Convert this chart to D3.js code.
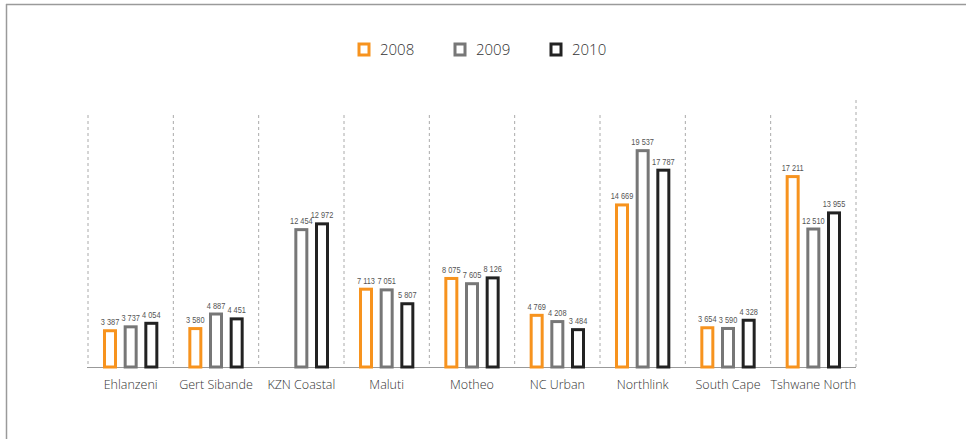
<!DOCTYPE html>
<html><head><meta charset="utf-8">
<script src="https://cdn.jsdelivr.net/npm/d3@7"></script>
<style>
html,body{margin:0;padding:0;background:#fff;}
svg{display:block;}
</style></head>
<body>
<svg id="chart" width="966" height="439"></svg>
<script>
const categories = ["Ehlanzeni","Gert Sibande","KZN Coastal","Maluti","Motheo","NC Urban","Northlink","South Cape","Tshwane North"];
const years = ["2008","2009","2010"];
const values2008 = [3387, 3580, null, 7113, 8075, 4769, 14669, 3654, 17211];
const values2009 = [3737, 4887, 12454, 7051, 7605, 4208, 19537, 3590, 12510];
const values2010 = [4054, 4451, 12972, 5807, 8126, 3484, 17787, 4328, 13955];
const colors = ["#F7931E", "#777777", "#222222"];

const series = [values2008, values2009, values2010];
const svg = d3.select("#chart");

// frame
svg.append("line").attr("x1",6).attr("x2",966).attr("y1",4.5).attr("y2",4.5).attr("stroke","#9a9a9a").attr("stroke-width",1.5);
svg.append("line").attr("x1",6.5).attr("x2",6.5).attr("y1",4).attr("y2",439).attr("stroke","#9a9a9a").attr("stroke-width",1.5);

const base = 367;
const x0 = d3.scaleBand().domain(categories).range([88, 856]).padding(0);
const x1 = d3.scaleBand().domain(years).range([-31, 31]).padding(0);
const y = d3.scaleLinear().domain([0, 20000]).range([base, base - 223]);

// dashed separators
const seps = d3.range(categories.length + 1).map(i => 88 + i * x0.bandwidth());
svg.selectAll("line.sep").data(seps).enter().append("line")
  .attr("class","sep")
  .attr("x1", d => d).attr("x2", d => d)
  .attr("y1", (d,i) => i === categories.length ? 100 : 115)
  .attr("y2", base)
  .attr("stroke","#aaa").attr("stroke-width",1).attr("stroke-dasharray","3,3");

// baseline
svg.append("line").attr("x1",87).attr("x2",856).attr("y1",base + 0.5).attr("y2",base + 0.5).attr("stroke","#999").attr("stroke-width",1);

const fmt = v => d3.format(",")(v).replace(/,/g, " ");

const g = svg.append("g");
categories.forEach((c, ci) => {
  const cx = x0(c) + x0.bandwidth() / 2;
  years.forEach((yr, si) => {
    const v = series[si][ci];
    if (v == null) return;
    const bx = cx + x1(yr) + x1.bandwidth() / 2;
    const w = 11;
    g.append("rect")
      .attr("x", bx - w / 2).attr("y", y(v) + 1.5)
      .attr("width", w).attr("height", base - y(v) - 1.5)
      .attr("fill", "#fff").attr("stroke", colors[si]).attr("stroke-width", 3);
    g.append("text")
      .attr("transform", `translate(${bx},${y(v) - 4}) scale(0.78,1)`)
      .attr("text-anchor", "middle")
      .attr("font-family", "'Liberation Sans', sans-serif")
      .attr("font-size", 9.5)
      .attr("fill", "#555")
      .text(fmt(v));
  });
  svg.append("text")
    .attr("x", cx).attr("y", 389)
    .attr("text-anchor", "middle")
    .attr("font-family", "'Open Sans', 'Liberation Sans', sans-serif")
    .attr("font-weight", 300)
    .attr("font-size", 12.5)
    .attr("fill", "#333")
    .text(c);
});

// legend
const legendX = [364, 460, 556];
years.forEach((yr, i) => {
  svg.append("rect")
    .attr("x", legendX[i] - 5).attr("y", 44)
    .attr("width", 10).attr("height", 11)
    .attr("fill", "#fff").attr("stroke", colors[i]).attr("stroke-width", 3);
  svg.append("text")
    .attr("x", legendX[i] + 16).attr("y", 55)
    .attr("font-family", "'Open Sans', 'Liberation Sans', sans-serif")
    .attr("font-weight", 300)
    .attr("font-size", 15)
    .attr("fill", "#333")
    .text(yr);
});
</script>
</body></html>
